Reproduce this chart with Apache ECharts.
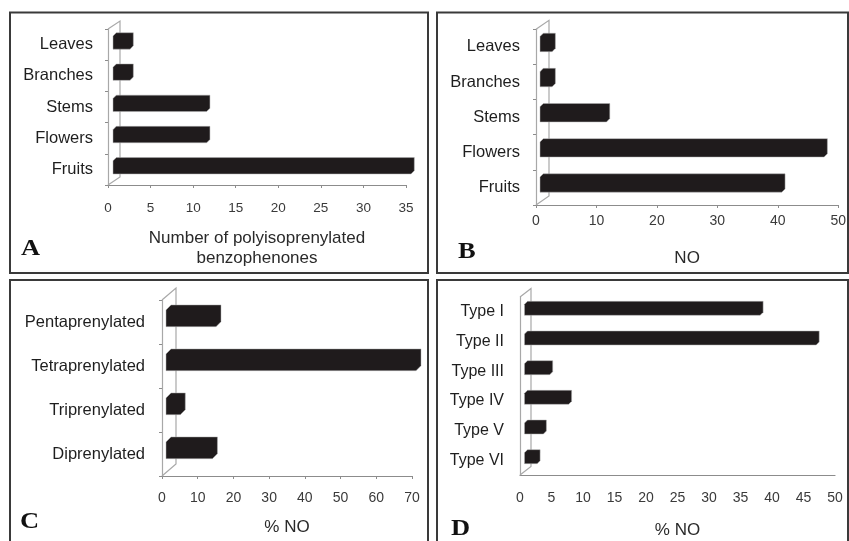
<!DOCTYPE html>
<html><head><meta charset="utf-8">
<script src="https://cdn.jsdelivr.net/npm/echarts@6/dist/echarts.min.js"></script>
<style>html,body{margin:0;padding:0;background:#fff}#c{width:849px;height:541px}</style>
</head><body><div id="c"></div>
<script>
// ---- data ----
const A_categories = ['Leaves', 'Branches', 'Stems', 'Flowers', 'Fruits'];
const A_values = [2, 2, 11, 11, 35];
const A_ticks = [0, 35, 5];
const B_categories = ['Leaves', 'Branches', 'Stems', 'Flowers', 'Fruits'];
const B_values = [2, 2, 11, 47, 40];
const B_ticks = [0, 50, 10];
const C_categories = ['Pentaprenylated', 'Tetraprenylated', 'Triprenylated', 'Diprenylated'];
const C_values = [14, 70, 4, 13];
const C_ticks = [0, 70, 10];
const D_categories = ['Type I', 'Type II', 'Type III', 'Type IV', 'Type V', 'Type VI'];
const D_values = [37.4, 46.3, 4, 7, 3, 2];
const D_ticks = [0, 50, 5];

const FONT = '"Liberation Sans", Arial, sans-serif';
const panels = [
  {cats: A_categories, vals: A_values, ticks: A_ticks, grid: {left: 108, top: 29, width: 298, height: 156},
   wall: [12, -8], bar: {ox: 5, oy: -2, hr: 0.42, d: 3.3}, showTicks: true, labelMargin: 16, catMargin: 15, catSize: 16.5,
   tickSize: 13.5, name: 'Number of polyisoprenylated\nbenzophenones', nameGap: 43},
  {cats: B_categories, vals: B_values, ticks: B_ticks, grid: {left: 536, top: 29.3, width: 303, height: 175.7},
   wall: [13, -9], bar: {ox: 4, oy: -2.8, hr: 0.43, d: 3.3}, showTicks: true, labelMargin: 9, catMargin: 16, catSize: 16.5,
   tickSize: 14, name: 'NO', nameGap: 43},
  {cats: C_categories, vals: C_values, ticks: C_ticks, grid: {left: 162, top: 300, width: 250, height: 176},
   wall: [14, -12], bar: {ox: 4, oy: -3.7, hr: 0.38, d: 5}, showTicks: true, labelMargin: 15, catMargin: 17, catSize: 16.5,
   tickSize: 14, name: '% NO', nameGap: 41},
  {cats: D_categories, vals: D_values, ticks: D_ticks, grid: {left: 520, top: 297, width: 315, height: 178},
   wall: [11, -8.5], bar: {ox: 4.5, oy: -2, hr: 0.37, d: 3}, showTicks: false, labelMargin: 16, catMargin: 16, catSize: 16,
   tickSize: 14, name: '% NO', nameGap: 45}
];

function barRender(cfg) {
  return function (params, api) {
    const v = api.value(0), c = api.value(1);
    const p0 = api.coord([0, c]);
    const p1 = api.coord([v, c]);
    const band = api.size([0, 1])[1];
    const fh = band * cfg.hr, d = cfg.d;
    const x0 = p0[0] + cfg.ox, x1 = p1[0] + cfg.ox;
    const yc = p0[1] + cfg.oy, yt = yc - fh / 2, yb = yc + fh / 2;
    return {
      type: 'polygon',
      shape: {points: [[x0, yt], [x0 + d, yt - d], [x1 + d, yt - d], [x1 + d, yb - d], [x1, yb], [x0, yb]]},
      style: {fill: '#1f1b1c', stroke: '#b0b0b0', lineWidth: 0.5}
    };
  };
}
function wallRender(dxy) {
  return function (params, api) {
    const cs = params.coordSys;
    const x = cs.x, y = cs.y, h = cs.height;
    return {
      type: 'polyline',
      shape: {points: [[x, y], [x + dxy[0], y + dxy[1]], [x + dxy[0], y + h + dxy[1]], [x, y + h]]},
      style: {fill: null, stroke: '#a8a8a8', lineWidth: 1.2}
    };
  };
}

const grids = [], xAxes = [], yAxes = [], series = [];
panels.forEach((p, i) => {
  grids.push(Object.assign({containLabel: false}, p.grid));
  xAxes.push({
    type: 'value', gridIndex: i, min: p.ticks[0], max: p.ticks[1], interval: p.ticks[2],
    axisLine: {show: true, lineStyle: {color: '#8c8c8c', width: 1.2}},
    axisTick: {show: p.showTicks, length: 3, lineStyle: {color: '#8c8c8c'}},
    axisLabel: {margin: p.labelMargin, color: '#3a3a3a', fontFamily: FONT, fontSize: p.tickSize},
    splitLine: {show: false},
    name: p.name, nameLocation: 'middle', nameGap: p.nameGap,
    nameTextStyle: {color: '#2a2a2a', fontFamily: FONT, fontSize: 17, lineHeight: 20}
  });
  yAxes.push({
    type: 'category', gridIndex: i, data: p.cats, inverse: true,
    axisLine: {show: true, lineStyle: {color: '#a8a8a8', width: 1.2}},
    axisTick: {show: p.showTicks, length: 3, inside: false, lineStyle: {color: '#8c8c8c'}},
    axisLabel: {margin: p.catMargin, color: '#1e1e1e', fontFamily: FONT, fontSize: p.catSize},
    splitLine: {show: false}
  });
  series.push({
    type: 'custom', xAxisIndex: i, yAxisIndex: i, z: 1, silent: true,
    renderItem: wallRender(p.wall), data: [[0, 0]], encode: {x: 0, y: 1}
  });
  series.push({
    type: 'custom', xAxisIndex: i, yAxisIndex: i, z: 3, silent: true,
    renderItem: barRender(p.bar), data: p.vals.map((v, k) => [v, k]), encode: {x: 0, y: 1}
  });
});

const border = {stroke: '#3a3a3a', lineWidth: 2, fill: null};
const letterFont = 'bold 23px "Liberation Serif", "Times New Roman", serif';
const graphic = [
  {type: 'rect', shape: {x: 10, y: 12.5, width: 418, height: 260.5}, style: border, z: 0},
  {type: 'rect', shape: {x: 437, y: 12.5, width: 411, height: 260.5}, style: border, z: 0},
  {type: 'rect', shape: {x: 10, y: 280, width: 418, height: 272}, style: border, z: 0},
  {type: 'rect', shape: {x: 437, y: 280, width: 411, height: 272}, style: border, z: 0},
  {type: 'text', x: 21, y: 249, scaleX: 1.15, style: {text: 'A', font: letterFont, fill: '#111', textVerticalAlign: 'middle'}},
  {type: 'text', x: 458, y: 252, scaleX: 1.15, style: {text: 'B', font: letterFont, fill: '#111', textVerticalAlign: 'middle'}},
  {type: 'text', x: 20, y: 522, scaleX: 1.15, style: {text: 'C', font: letterFont, fill: '#111', textVerticalAlign: 'middle'}},
  {type: 'text', x: 451, y: 529, scaleX: 1.15, style: {text: 'D', font: letterFont, fill: '#111', textVerticalAlign: 'middle'}}
];

const chart = echarts.init(document.getElementById('c'));
chart.setOption({
  animation: false,
  backgroundColor: '#fff',
  grid: grids, xAxis: xAxes, yAxis: yAxes, series: series, graphic: graphic
});
</script></body></html>
